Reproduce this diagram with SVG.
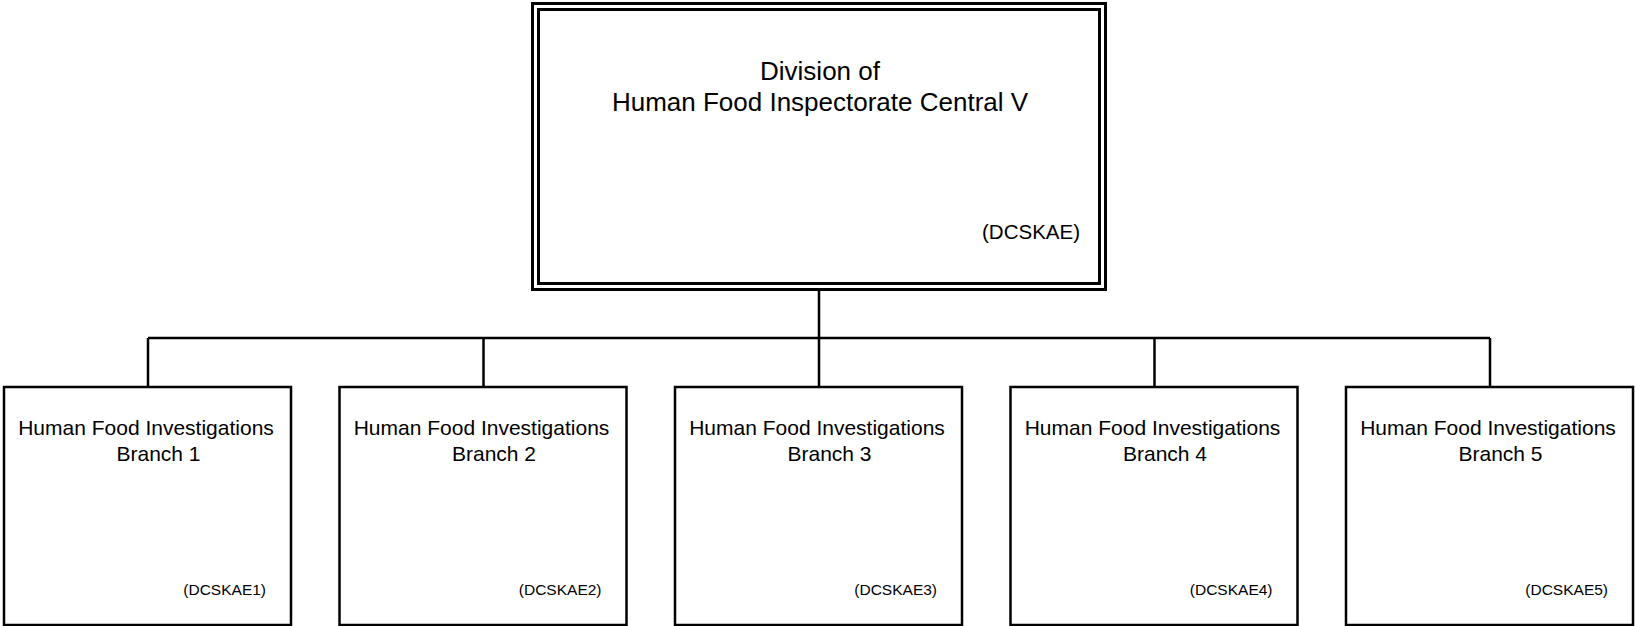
<svg xmlns="http://www.w3.org/2000/svg" width="1635" height="626" viewBox="0 0 1635 626">
<style>
  .box { fill: #fff; stroke: #000; stroke-width: 2.5; }
  .dbl { fill: none; stroke: #000; stroke-width: 3; }
  .conn { fill: none; stroke: #000; stroke-width: 2.5; }
  text { font-family: "Liberation Sans", Arial, sans-serif; fill: #000; }
  .title { font-size: 26px; text-anchor: middle; }
  .code { font-size: 20.5px; text-anchor: end; }
  .name { font-size: 21px; text-anchor: middle; }
  .scode { font-size: 15.5px; text-anchor: end; }
</style>
<rect width="1635" height="626" fill="#fff"/>
<g id="connectors">
  <path class="conn" d="M819 290 V338 M148 338 H1490 M148 338 V387 M483.5 338 V387 M819 338 V387 M1154.5 338 V387 M1490 338 V387"/>
</g>
<g id="division">
  <rect class="dbl" x="532.5" y="3.5" width="573" height="286"/>
  <rect class="dbl" x="538.5" y="9.5" width="561" height="274"/>
  <text class="title" x="820" y="80">Division of</text>
  <text class="title" x="820" y="111">Human Food Inspectorate Central V</text>
  <text class="code" x="1080" y="239">(DCSKAE)</text>
</g>
<g id="branch1">
  <rect class="box" x="4" y="387" width="287" height="238"/>
  <text class="name" x="146" y="435">Human Food Investigations</text>
  <text class="name" x="158.5" y="461">Branch 1</text>
  <text class="scode" x="266" y="595">(DCSKAE1)</text>
</g>
<g id="branch2">
  <rect class="box" x="339.5" y="387" width="287" height="238"/>
  <text class="name" x="481.5" y="435">Human Food Investigations</text>
  <text class="name" x="494" y="461">Branch 2</text>
  <text class="scode" x="601.5" y="595">(DCSKAE2)</text>
</g>
<g id="branch3">
  <rect class="box" x="675" y="387" width="287" height="238"/>
  <text class="name" x="817" y="435">Human Food Investigations</text>
  <text class="name" x="829.5" y="461">Branch 3</text>
  <text class="scode" x="937" y="595">(DCSKAE3)</text>
</g>
<g id="branch4">
  <rect class="box" x="1010.5" y="387" width="287" height="238"/>
  <text class="name" x="1152.5" y="435">Human Food Investigations</text>
  <text class="name" x="1165" y="461">Branch 4</text>
  <text class="scode" x="1272.5" y="595">(DCSKAE4)</text>
</g>
<g id="branch5">
  <rect class="box" x="1346" y="387" width="287" height="238"/>
  <text class="name" x="1488" y="435">Human Food Investigations</text>
  <text class="name" x="1500.5" y="461">Branch 5</text>
  <text class="scode" x="1608" y="595">(DCSKAE5)</text>
</g>
</svg>
